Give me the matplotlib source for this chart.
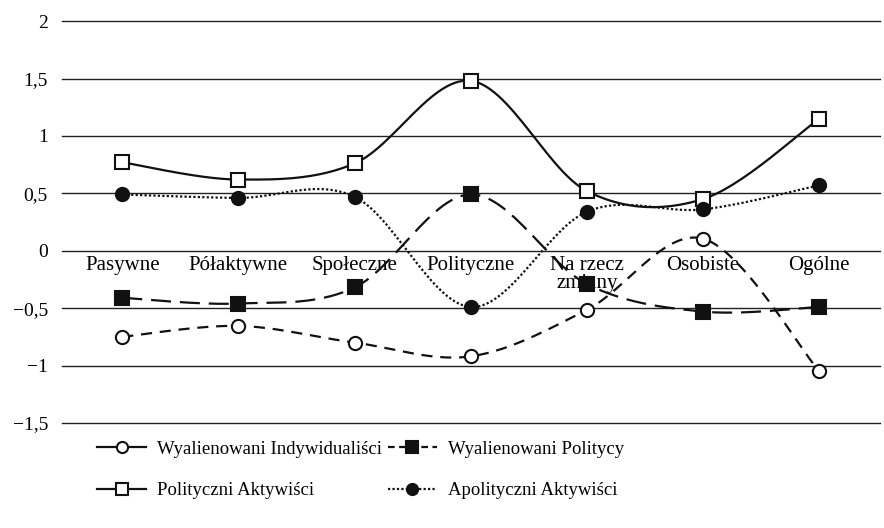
import numpy as np
import matplotlib.pyplot as plt
from matplotlib.lines import Line2D

plt.rcParams['font.family'] = ['Liberation Serif', 'DejaVu Serif']

categories = ["Pasywne", "Półaktywne", "Społeczne", "Polityczne",
              "Na rzecz\nzmiany", "Osobiste", "Ogólne"]

indywidualisci = [-0.75, -0.655, -0.80, -0.92, -0.515, 0.105, -1.05]
politycy = [-0.41, -0.46, -0.32, 0.49, -0.29, -0.53, -0.49]
aktywisci = [0.77, 0.62, 0.76, 1.48, 0.52, 0.45, 1.15]
apolityczni = [0.49, 0.46, 0.47, -0.49, 0.34, 0.36, 0.57]

y_ticks = [-1.5, -1, -0.5, 0, 0.5, 1, 1.5, 2]
y_labels = ["\u22121,5", "\u22121", "\u22120,5", "0", "0,5", "1", "1,5", "2"]


def smooth(x, y, n=30):
    # Catmull-Rom style bezier, like the smoothed lines of a spreadsheet chart
    x = np.asarray(x, float)
    y = np.asarray(y, float)
    px = np.concatenate([[x[0]], x, [x[-1]]])
    py = np.concatenate([[y[0]], y, [y[-1]]])
    xs, ys = [], []
    t = np.linspace(0, 1, n)
    for i in range(1, len(px) - 2):
        p0 = np.array([px[i], py[i]])
        p3 = np.array([px[i + 1], py[i + 1]])
        p1 = p0 + (np.array([px[i + 1], py[i + 1]]) - np.array([px[i - 1], py[i - 1]])) / 6
        p2 = p3 - (np.array([px[i + 2], py[i + 2]]) - np.array([px[i], py[i]])) / 6
        b = ((1 - t) ** 3)[:, None] * p0 + (3 * (1 - t) ** 2 * t)[:, None] * p1 \
            + (3 * (1 - t) * t ** 2)[:, None] * p2 + (t ** 3)[:, None] * p3
        xs.extend(b[:, 0])
        ys.extend(b[:, 1])
    return np.array(xs), np.array(ys)


fig = plt.figure(figsize=(8.84, 5.28), dpi=100)
ax = fig.add_axes([0.070, 0.199, 0.925, 0.761])

x = np.arange(len(categories))

for v in y_ticks:
    ax.axhline(v, color='#222222', lw=1.0, zorder=1, clip_on=False)

series = [
    (indywidualisci, (0, (5, 3.5)), 'o', 'white'),
    (politycy, (0, (9, 4)), 's', '#111111'),
    (aktywisci, '-', 's', 'white'),
    (apolityczni, (0, (1, 1)), 'o', '#111111'),
]
for vals, ls, mk, fc in series:
    sx, sy = smooth(x, vals)
    ax.plot(sx, sy, color='#111111', lw=1.6, linestyle=ls, zorder=3)
    ax.plot(x, vals, linestyle='none', marker=mk, markersize=9.5,
            markerfacecolor=fc, markeredgecolor='#111111', markeredgewidth=1.5, zorder=4)

for i, c in enumerate(categories):
    ax.text(i, -0.05, c, ha='center', va='top', fontsize=15, linespacing=0.9, zorder=2)

ax.set_xlim(-0.52, len(categories) - 0.48)
ax.set_ylim(-1.5, 2)
ax.set_yticks(y_ticks)
ax.set_yticklabels(y_labels, fontsize=14)
ax.set_xticks([])
ax.tick_params(axis='y', length=0, pad=10)
for s in ax.spines.values():
    s.set_visible(False)

h_ind = Line2D([], [], color='#111111', lw=1.6, marker='o', markersize=8,
               markerfacecolor='white', markeredgewidth=1.5)
h_pol = Line2D([], [], color='#111111', lw=1.6, linestyle=(0, (3, 2)), marker='s', markersize=8,
               markerfacecolor='#111111', markeredgewidth=1.5)
h_akt = Line2D([], [], color='#111111', lw=1.6, marker='s', markersize=8,
               markerfacecolor='white', markeredgewidth=1.5)
h_apo = Line2D([], [], color='#111111', lw=1.6, linestyle=(0, (1, 1)), marker='o', markersize=8,
               markerfacecolor='#111111', markeredgewidth=1.5)
handles = [h_ind, h_akt, h_pol, h_apo]
labels = ["Wyalienowani Indywidualiści", "Polityczni Aktywiści",
          "Wyalienowani Politycy", "Apolityczni Aktywiści"]
fig.legend(handles, labels, loc='center', bbox_to_anchor=(0.408, 0.110), ncol=2,
           frameon=False, fontsize=13.5, handlelength=2.6, columnspacing=0.3,
           labelspacing=1.3, handletextpad=0.6)

fig.savefig('out.png', dpi=100)
